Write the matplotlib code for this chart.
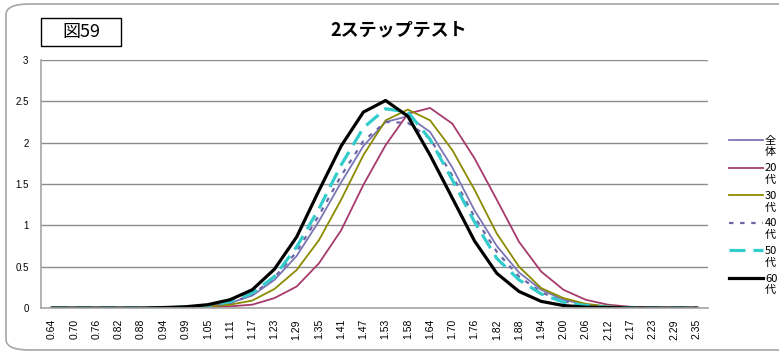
import numpy as np
import matplotlib.pyplot as plt
from matplotlib.patches import FancyBboxPatch, Rectangle
from matplotlib.lines import Line2D

plt.rcParams['font.family'] = ['Liberation Sans', 'Noto Sans CJK JP', 'DejaVu Sans']
jp = ['Noto Sans CJK JP', 'DejaVu Sans']

# x categories (measured value)
cats = ["0.64", "0.70", "0.76", "0.82", "0.88", "0.94", "0.99", "1.05", "1.11", "1.17",
        "1.23", "1.29", "1.35", "1.41", "1.47", "1.53", "1.58", "1.64", "1.70", "1.76",
        "1.82", "1.88", "1.94", "2.00", "2.06", "2.12", "2.17", "2.23", "2.29", "2.35"]

all_ages = [0, 0, 0, 0, 0, 0.002, 0.008, 0.025, 0.06, 0.15, 0.34, 0.63, 1.05, 1.52, 1.96,
            2.25, 2.32, 2.13, 1.70, 1.18, 0.75, 0.43, 0.22, 0.10, 0.04, 0.015, 0.005, 0, 0, 0]
age20 = [0, 0, 0, 0, 0, 0, 0.002, 0.008, 0.02, 0.04, 0.12, 0.26, 0.54, 0.94, 1.49,
         1.97, 2.35, 2.42, 2.23, 1.81, 1.31, 0.80, 0.44, 0.22, 0.10, 0.04, 0.015, 0.005, 0, 0]
age30 = [0, 0, 0, 0, 0, 0, 0.004, 0.015, 0.04, 0.09, 0.23, 0.46, 0.82, 1.31, 1.85,
         2.27, 2.40, 2.27, 1.91, 1.43, 0.90, 0.50, 0.24, 0.12, 0.05, 0.02, 0.005, 0, 0, 0]
age40 = [0, 0, 0, 0, 0, 0.003, 0.01, 0.025, 0.06, 0.16, 0.37, 0.68, 1.12, 1.60, 2.02,
         2.25, 2.24, 2.05, 1.60, 1.10, 0.68, 0.38, 0.19, 0.08, 0.03, 0.01, 0.003, 0, 0, 0]
age50 = [0, 0, 0, 0, 0, 0.003, 0.01, 0.03, 0.076, 0.18, 0.38, 0.74, 1.20, 1.73, 2.18,
         2.41, 2.37, 2.04, 1.55, 1.04, 0.60, 0.34, 0.17, 0.07, 0.03, 0.01, 0.003, 0, 0, 0]
age60 = [0, 0, 0, 0, 0, 0.005, 0.015, 0.04, 0.10, 0.22, 0.47, 0.86, 1.42, 1.96, 2.37,
         2.51, 2.32, 1.85, 1.33, 0.81, 0.42, 0.20, 0.08, 0.03, 0.01, 0.005, 0, 0, 0, 0]

labels = ["全\n体", "20\n代", "30\n代", "40\n代", "50\n代", "60\n代"]
series = [all_ages, age20, age30, age40, age50, age60]
styles = [dict(color='#7b76b5', lw=1.3, ls='-'),
          dict(color='#a63a6d', lw=1.3, ls='-'),
          dict(color='#8c8a00', lw=1.3, ls='-'),
          dict(color='#6a66a8', lw=1.6, ls=(0, (2, 3))),
          dict(color='#33cccc', lw=2.3, ls=(0, (5, 2.5))),
          dict(color='black', lw=2.3, ls='-')]

fig = plt.figure(figsize=(7.79, 3.54), dpi=100)

# rounded outer frame (behind everything)
frame = FancyBboxPatch((6 / 779, 4 / 354), 800 / 779, 346 / 354,
                       boxstyle="round,pad=0,rounding_size=0.03",
                       transform=fig.transFigure, fc='white', ec='#a6a6a6', lw=1.2, zorder=-5)
fig.patches.append(frame)

ax = fig.add_axes([41 / 779, 1 - 308 / 354, 667 / 779, 248 / 354])
ax.patch.set_alpha(0)
x = np.arange(len(cats))

for vals, st in zip(series, styles):
    ax.plot(x, vals, **st)

ax.set_xlim(-0.5, len(cats) - 0.5)
ax.set_ylim(0, 3)
ax.set_yticks([0, 0.5, 1, 1.5, 2, 2.5, 3])
ax.set_yticklabels(["0", "0.5", "1", "1.5", "2", "2.5", "3"], fontsize=7)
ax.set_xticks(x)
ax.set_xticklabels(cats, rotation=90, fontsize=7.5)
ax.tick_params(length=0, pad=8)
ax.tick_params(axis='y', pad=9)
ax.grid(axis='y', color='#8c8c8c', lw=1)
ax.set_axisbelow(True)
for s in ['top', 'right']:
    ax.spines[s].set_visible(False)
ax.spines['left'].set_color('#a6a6a6')
ax.spines['bottom'].set_color('#a6a6a6')
ax.spines['left'].set_linewidth(1.2)
ax.spines['bottom'].set_linewidth(1.2)

fig.text(399 / 779, 1 - 30 / 354, "2ステップテスト", ha='center', va='center',
         fontsize=13, fontweight='bold', family=jp)

fig.patches.append(Rectangle((41 / 779, 1 - 46 / 354), 80 / 779, 28 / 354,
                             transform=fig.transFigure, fc='white', ec='black', lw=1))
fig.text(81 / 779, 1 - 32 / 354, "図59", ha='center', va='center', fontsize=13, family=jp)

# legend on the right, line level with first text row
for i, (lab, st) in enumerate(zip(labels, styles)):
    yy = 1 - (140 + 27.6 * i) / 354
    fig.add_artist(Line2D([729 / 779, 763 / 779], [yy, yy], transform=fig.transFigure, **st))
    fig.text(765 / 779, yy - 6.5 / 354, lab, ha='left', va='center', fontsize=8,
             linespacing=1.2, family=jp)

fig.savefig("out.png", dpi=100)
